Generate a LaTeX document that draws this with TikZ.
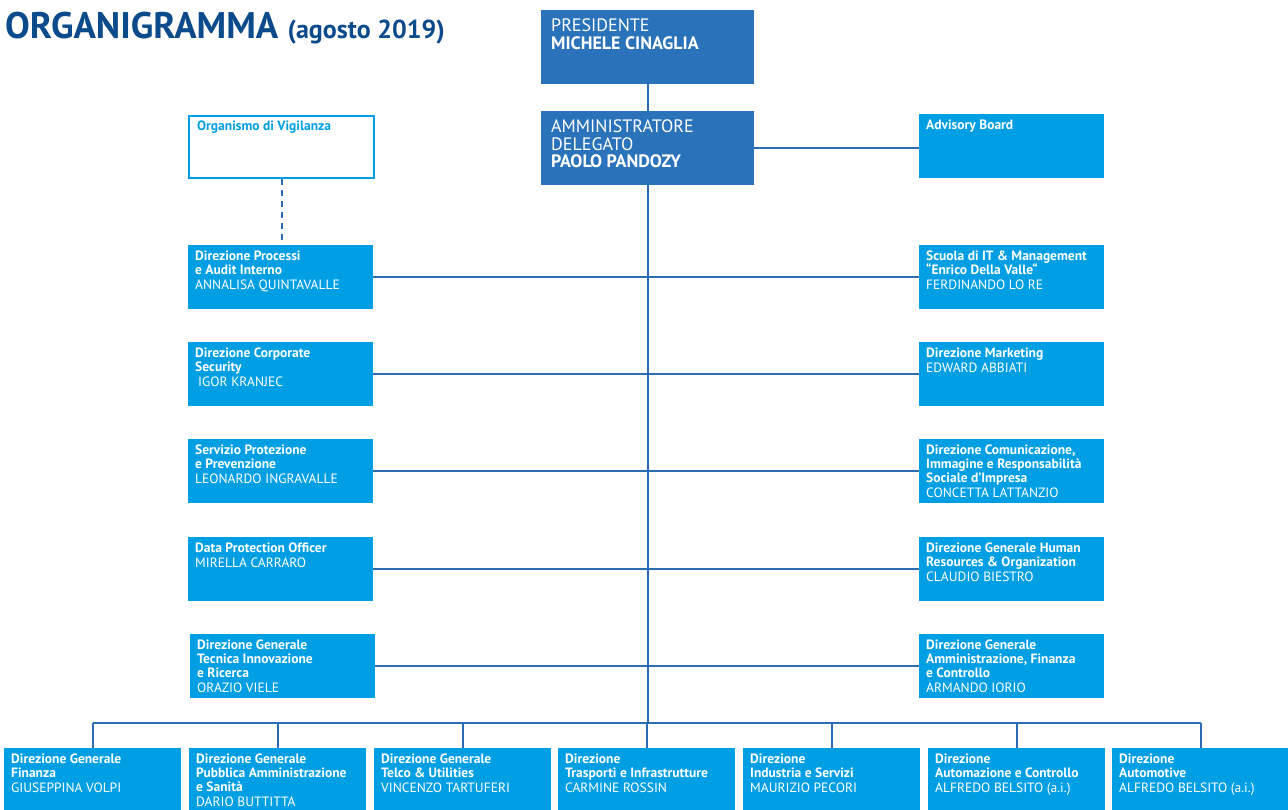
\documentclass[tikz,border=0pt]{standalone}
\usepackage{fontspec}
\setmainfont{PT Sans}
\usetikzlibrary{positioning}
\definecolor{capo}{HTML}{2A72B9}
\definecolor{ufficio}{HTML}{009FE3}
\definecolor{linea}{HTML}{2B6CB4}
\definecolor{titolo}{HTML}{0B4A8B}
\tikzset{
	capobox/.style={fill=capo,inner sep=0pt,anchor=north west,minimum width=213pt,minimum height=74pt},
	ufficiobox/.style={fill=ufficio,inner sep=0pt,anchor=north west,minimum width=185pt,minimum height=64pt},
	basebox/.style={ufficiobox,minimum width=177pt,minimum height=62pt},
	scritta/.style={anchor=north west,align=left,text=white,inner xsep=7pt,inner ysep=6pt,font=\bfseries\fontsize{13.5}{14}\selectfont},
	scrittacapo/.style={scritta,inner xsep=10pt,inner ysep=8.5pt,font=\fontsize{18}{17.5}\selectfont},
	filo/.style={draw=linea,line width=2pt},
}
% box + testo in alto a sinistra
\newcommand{\casella}[5][ufficiobox]{%
	\node[#1] (#2) at (#3) {};
	\node[scritta] at (#2.north west) {#4\\[1pt]\mdseries #5};}
\begin{document}
\begin{tikzpicture}[x=1pt,y=-1pt]
	\useasboundingbox (0,0) rectangle (1288,809);
	\node[anchor=base west,inner sep=0pt,text=titolo,font=\bfseries] (titolo) at (5,38) {\fontsize{37}{37}\selectfont ORGANIGRAMMA \fontsize{26}{26}\selectfont(agosto 2019)};
	%TOP
	\node[capobox] (pres) at (541,10) {};
	\node[scrittacapo] at (pres.north west) {PRESIDENTE\\\bfseries MICHELE CINAGLIA};
	\node[capobox] (ad) at (541,111) {};
	\node[scrittacapo] at (ad.north west) {AMMINISTRATORE\\DELEGATO\\\bfseries PAOLO PANDOZY};
	\node[ufficiobox,fill=white,draw=ufficio,line width=2pt,minimum height=62pt] (odv) at (188,115) {};
	\node[scritta,text=ufficio,inner xsep=9pt] at (odv.north west) {Organismo di Vigilanza};
	\node[ufficiobox] (adv) at (919,114) {};
	\node[scritta] at (adv.north west) {Advisory Board};
	%LEFT
	\casella{dpa}{188,245}{Direzione Processi\\e Audit Interno}{ANNALISA QUINTAVALLE}
	\casella{dcs}{188,342}{Direzione Corporate\\Security}{\hspace{3pt}IGOR KRANJEC}
	\casella{spp}{188,439}{Servizio Protezione\\e Prevenzione}{LEONARDO INGRAVALLE}
	\casella{dpo}{188,537}{Data Protection Officer}{MIRELLA CARRARO}
	\casella{dtr}{190,634}{Direzione Generale\\Tecnica Innovazione\\e Ricerca}{ORAZIO VIELE}
	%RIGHT
	\casella{scu}{919,245}{Scuola di IT \& Management\\“Enrico Della Valle“}{FERDINANDO LO RE}
	\casella{mkt}{919,342}{Direzione Marketing}{EDWARD ABBIATI}
	\casella{com}{919,439}{Direzione Comunicazione,\\Immagine e Responsabilità\\Sociale d’Impresa}{CONCETTA LATTANZIO}
	\casella{hro}{919,537}{Direzione Generale Human\\Resources \& Organization}{CLAUDIO BIESTRO}
	\casella{afc}{919,634}{Direzione Generale\\Amministrazione, Finanza\\e Controllo}{ARMANDO IORIO}
	%BOTTOM
	\casella[basebox]{fin}{4,748}{Direzione Generale\\Finanza}{GIUSEPPINA VOLPI}
	\casella[basebox]{pas}{189,748}{Direzione Generale\\Pubblica Amministrazione\\e Sanità}{DARIO BUTTITTA}
	\casella[basebox]{tel}{374,748}{Direzione Generale\\Telco \& Utilities}{VINCENZO TARTUFERI}
	\casella[basebox]{tra}{558,748}{Direzione\\Trasporti e Infrastrutture}{CARMINE ROSSIN}
	\casella[basebox]{ind}{743,748}{Direzione\\Industria e Servizi}{MAURIZIO PECORI}
	\casella[basebox]{aut}{928,748}{Direzione\\Automazione e Controllo}{ALFREDO BELSITO (a.i.)}
	\casella[basebox]{atm}{1112,748}{Direzione\\Automotive}{ALFREDO BELSITO (a.i.)}
	%LINES
	\coordinate (bus) at (0,723);
	\draw[filo] (pres.south) -- (ad.north);
	\draw[filo] (ad.east) -- (ad.east -| adv.west);
	\draw[filo] (ad.south) -- (ad.south |- bus);
	\draw[filo,dashed,dash pattern=on 6pt off 5pt] (odv.south) -- (odv.south |- dpa.north);
	\draw[filo] (dpa.east) -- (scu.west);
	\draw[filo] (dcs.east) -- (mkt.west);
	\draw[filo] (spp.east) -- (com.west);
	\draw[filo] (dpo.east) -- (hro.west);
	\draw[filo] (dtr.east) -- (afc.west);
	\draw[filo] (fin.north |- bus) -- (atm.north |- bus);
	\foreach \b in {fin,pas,tel,tra,ind,aut,atm}
		\draw[filo] (\b.north |- bus) -- (\b.north);
\end{tikzpicture}
\end{document}
